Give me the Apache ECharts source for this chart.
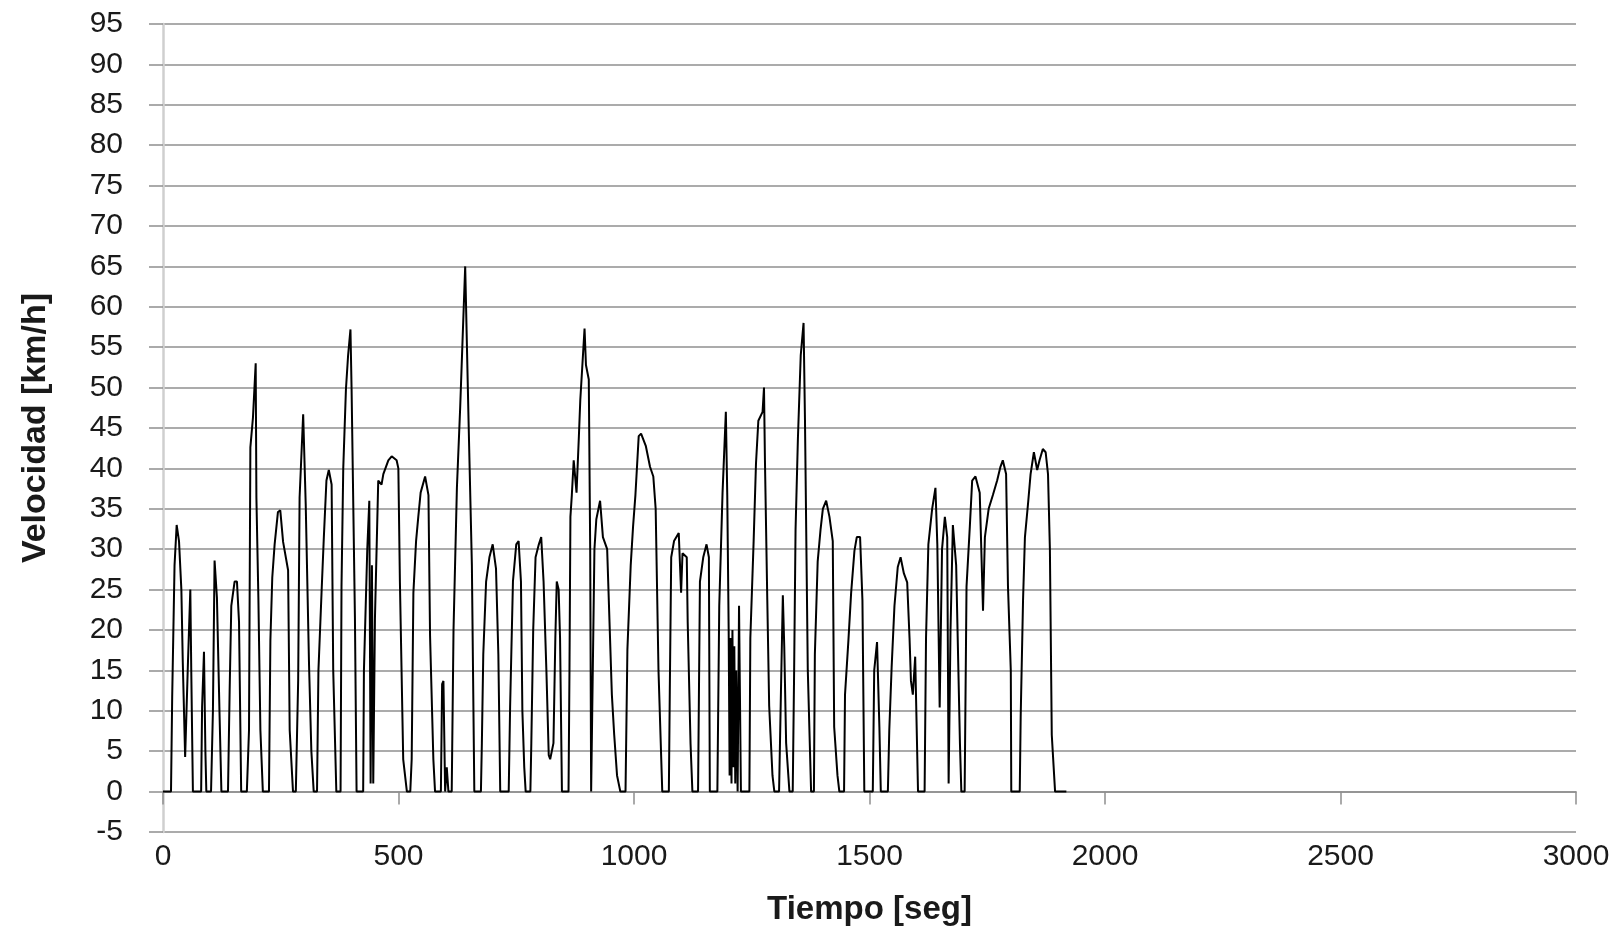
<!DOCTYPE html>
<html>
<head>
<meta charset="utf-8">
<script src="https://cdn.jsdelivr.net/npm/echarts@6/dist/echarts.min.js"></script>
<style>
html,body{margin:0;padding:0;background:#fff;}
#chart{width:1623px;height:936px;}
</style>
</head>
<body>
<div id="chart"></div>
<script>
// Time [s]
var times = [
0,17,19.5,24.5,29,34,39,42,47,53,58,60,63.5,
81,83,87,90,92,
102,106,109.5,114.5,120,124,
138,141.5,145,152,157,161.4,166,
178,182.6,185.5,191,196.8,198.3,202.5,206.8,212,
225,228,232,237,244,249,255,265.6,269,276,
282,287,290,297.6,303,310,315,320,
327,330,336.6,341.5,347,352,358,361.4,368,
377,379,382.7,388.4,393,398,400.4,407.5,411,
425,426.6,433.7,438,440.8,443.6,446.4,450,457,464,467.8,478.4,485.5,496,499.7,503,510,517.8,
525,528,531.6,537.3,542,547,556.5,563.6,567,574,577.6,
590,592.6,595.4,599,602.5,606,
613,616.8,624,631,636,641.6,648.7,655.8,661,
675,677,680,686,693,700,707,712,716,
734,737,743,750,755,760,763,767,770,
780,782,786,791,798,803,808,814,819,822,829,833,836,840,843,847,
861,863,865,868,872,878,883,886,890,895,898,904,907,909,912,916,920,928,934,943,953,958,964,971,
982,986,993,998,1003,1010,1015,1025,1034,1041,1046,1052,1060,
1074,1076,1079,1085,1095,1100,1103,1112,1114,1120,1124,
1136,1140,1147,1154,1159,1161,
1177,1181,1188,1195,1198,1201,1203,1205,1207,1209,1211,1213,1215,1217,1220,1223,1227,
1245,1247,1254,1259,1264,1273,1276,1278,1283,1287,1294,1298,
1308,1312,1316,1319,1323,1330,
1337,1340,1343,1348,1354,1360,1363,1369,1376,
1382,1384,1390,1396,1401,1408,1415,1422,1425,1432,1436,
1446,1448,1455,1461,1468,1473,1480,1485,1489,
1507,1510,1516,1521,1524,
1539,1542,1547,1553,1560,1566,1573,1580,1585,1588,1592,1597,1603,
1617,1620,1625,1633,1640,1644,1649,1654,1660,1665,1668,1672,1677,1684,1692,1695,
1702,1706,1713,1718,1725,1734,1741,1745,1753,1762,1771,1778,1783,1790,1794,1800,1801,
1819,1821,1826,1830,1837,1842,1849,1856,1861,1868,1874,1879,1883,1887,1894,1918
];
// Speed [km/h]
var speeds = [
0,0,11.7,28,33,31,25,16,4.3,16,25,15,0,
0,10.5,17.3,5,0,
0,10,28.6,24,9.7,0,
0,12.5,23,26,26,21,0,
0,7.6,42.6,46.3,53,36.4,24,7.6,0,
0,18.7,26.5,30.6,34.6,34.8,30.9,27.4,7.6,0,
0,13.8,36.4,46.7,35.6,15.8,5,0,
0,15,24.6,31.5,38.5,39.8,38,15,0,
0,25.4,40,49.8,54,57.2,49.8,21.5,0,
0,15,30,36,1,28,1,21.5,38.5,38,39.3,41,41.5,41,40,25.9,4,0,
0,4,24.6,31,34,37,39,36.7,19.3,4,0,
0,13.3,13.7,0,3,0,
0,20,37.6,47.6,55.9,65,46,28,0,
0,6,17,26,29,30.6,27.6,17,0,
0,10.6,26,30.6,31,26,10,3,0,
0,6,20,29,30.6,31.5,26,15,4.5,4,6,19,26,25,19,0,
0,15,34,36.7,41,37,44,48.5,52.4,57.3,52.8,51,30,0,0,30,33.7,36,31.5,30,12,7,2,0,
0,17.6,28,32.8,36.7,44,44.3,42.8,40.2,39,35,15,0,
0,12.4,29,31,32,24.6,29.5,29,21,6,0,
0,26,29,30.6,29,0,
0,23,37,47,36.7,20,2,19,1,20,3,18,1,15,0,23,0,
0,19,31,40.6,45.9,47,50,41,23.7,10.6,2,0,
0,12.4,24.3,18,6,0,
0,15,32.4,43.7,54,58,46,15,0,
0,17,28.5,32.4,35,36,34,31,8,2,0,
0,12,18.5,24.6,29.8,31.5,31.5,23.7,0,
0,15,18.5,8,0,
0,7.6,15.4,23,27.8,29,27,25.9,19,13.7,12,16.7,0,
0,19,30.6,35,37.6,30.6,10.4,30,34,31.5,1,20,33,28,6,0,
0,25.4,32.8,38.5,39,37,22.4,31.5,35,36.7,38.5,40.2,41,39.3,25.4,15,0,
0,9.3,23.7,31.5,35.9,39.3,42,39.8,41,42.4,42,39.3,30,7,0,0
];
var xTicks = [0, 500, 1000, 1500, 2000, 2500, 3000];
var yTicks = [-5,0,5,10,15,20,25,30,35,40,45,50,55,60,65,70,75,80,85,90,95];

var seriesData = times.map(function (t, i) { return [t, speeds[i]]; });

var chart = echarts.init(document.getElementById('chart'), null, {renderer: 'canvas'});
var gridGray = '#8f8f8f';
var textColor = '#1a1a1a';
var tickFont = 'Liberation Sans';
chart.setOption({
  animation: false,
  backgroundColor: '#fff',
  grid: {left: 163, right: 47, top: 24, bottom: 104, containLabel: false, outerBoundsMode: 'none'},
  xAxis: {
    type: 'value',
    min: xTicks[0], max: xTicks[xTicks.length - 1], interval: 500,
    name: 'Tiempo [seg]',
    nameLocation: 'middle',
    nameGap: 61,
    nameTextStyle: {fontFamily: tickFont, fontWeight: 'bold', fontSize: 33, color: textColor},
    axisLine: {show: true, onZero: true, lineStyle: {color: gridGray, width: 1.5}},
    axisTick: {show: true, inside: false, length: 13, lineStyle: {color: gridGray, width: 1.5}},
    axisLabel: {margin: 10, fontFamily: tickFont, fontSize: 30, color: textColor,
      formatter: function (v) { return String(v); }},
    splitLine: {show: false}
  },
  yAxis: {
    type: 'value',
    min: yTicks[0], max: yTicks[yTicks.length - 1], interval: 5,
    name: 'Velocidad [km/h]',
    nameLocation: 'middle',
    nameGap: 110,
    nameTextStyle: {fontFamily: tickFont, fontWeight: 'bold', fontSize: 34, color: textColor},
    axisLine: {show: true, lineStyle: {color: '#cfcfcf', width: 2.5}},
    axisTick: {show: true, inside: false, length: 14, lineStyle: {color: gridGray, width: 1.5}},
    axisLabel: {margin: 40, fontFamily: tickFont, fontSize: 30, color: textColor,
      formatter: function (v) { return String(v); }},
    splitLine: {show: true, lineStyle: {color: gridGray, width: 1.5}}
  },
  series: [{
    type: 'line',
    data: seriesData,
    showSymbol: false,
    symbol: 'none',
    lineStyle: {color: '#000', width: 2},
    z: 5
  }]
});
</script>
</body>
</html>
